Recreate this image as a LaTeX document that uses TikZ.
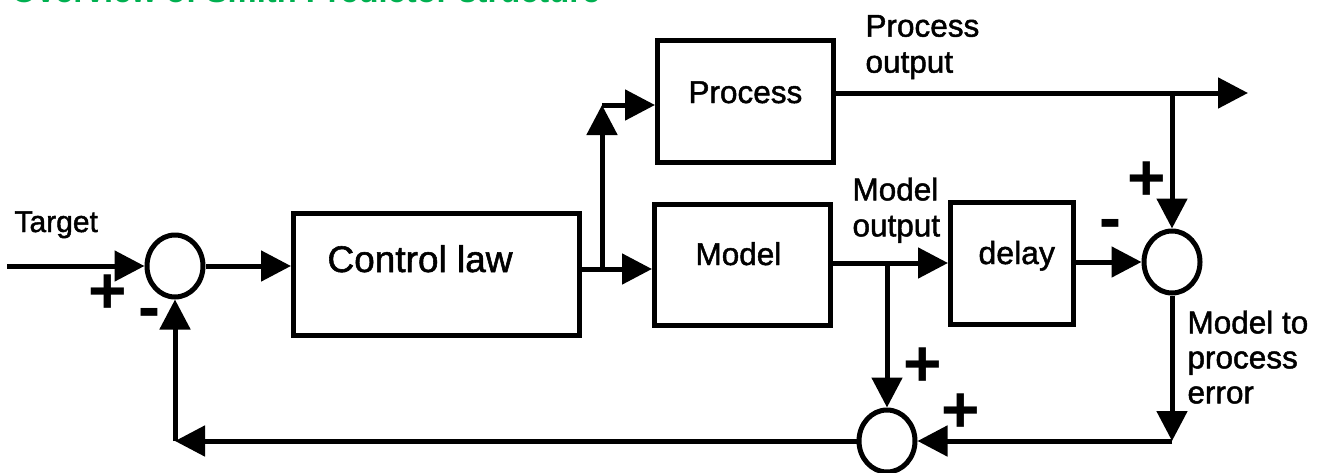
\documentclass[tikz,border=0pt]{standalone}
\usepackage{fontspec}
\setmainfont{Liberation Sans}
\newfontfamily\heavy[FakeBold=1.5]{Liberation Sans}
\usetikzlibrary{arrows.meta,shapes.geometric}
\definecolor{titlegreen}{RGB}{0,176,80}
\begin{document}
\begin{tikzpicture}[x=1pt,y=-1pt,line width=5pt,
  blk/.style={draw,rectangle,inner sep=0pt,line width=5pt},
  sumj/.style={draw,ellipse,minimum width=56pt,minimum height=62pt,inner sep=0pt,line width=5pt},
  arr/.style={-{Triangle[length=30pt,width=30pt]}},
  lbl/.style={inner sep=0pt,font=\heavy\fontsize{31.5}{36}\selectfont,align=left,anchor=north west},
  boxtxt/.style={inner sep=0pt,anchor=base west,font=\heavy\fontsize{31.5}{36}\selectfont},
  sign/.style={inner sep=0pt,font=\fontsize{66}{66}\selectfont\bfseries}]
\useasboundingbox (0,0) rectangle (1322,472);
% title (cut off by the top edge)
\node[anchor=base west,inner sep=0pt,text=titlegreen,font=\fontsize{32.7}{36}\selectfont\bfseries] (title) at (9,2.5) {Overview of Smith Predictor structure};
% blocks
\node[blk,minimum width=286pt,minimum height=122pt] (cl) at (436.5,274.5) {};
\node[blk,minimum width=176pt,minimum height=122pt] (proc) at (745.5,101.5) {};
\node[blk,minimum width=176pt,minimum height=121pt] (model) at (742.5,265) {};
\node[blk,minimum width=123pt,minimum height=122pt] (delay) at (1012,263.5) {};
\node[boxtxt,font=\heavy\fontsize{37}{44}\selectfont] (tcl) at (325,272) {Control law};
\node[boxtxt] (tproc) at (686,103) {Process};
\node[boxtxt] (tmodel) at (693,265) {Model};
\node[boxtxt,font=\heavy\fontsize{32}{36}\selectfont] (tdelay) at (976,264) {delay};
% summing junctions
\node[sumj] (s1) at (175,266) {};
\node[sumj] (s2) at (1172,262) {};
\node[sumj] (s3) at (887,441) {};
% labels
\node[anchor=base west,inner sep=0pt,font=\heavy\fontsize{30}{36}\selectfont] (ttarget) at (12,232) {Target};
\node[lbl] (tpo) at (863,12.5) {Process\\output};
\node[lbl] (tmo) at (850,175) {Model\\output};
\node[lbl,font=\heavy\fontsize{31.5}{35}\selectfont] (terr) at (1185,308) {Model to\\process\\error};
% signs
\node[sign] (p1) at (108,294) {+};
\node[sign,anchor=base] (m1) at (149,329) {-};
\node[sign] (p2) at (1147,181) {+};
\node[sign,anchor=base] (m2) at (1110,240) {-};
\node[sign] (p3) at (923,367) {+};
\node[sign] (p4) at (961,413) {+};
% coordinates
\coordinate (in) at (7,266);
\coordinate (b1) at (602,269);
\coordinate (b2) at (602,105);
\coordinate (po) at (1248,93);
\coordinate (b3) at (s2.north |- po);
\coordinate (b4) at (887,263);
\coordinate (c1) at (s2.south |- s3.east);
\coordinate (c2) at (s1.south |- s3.west);
% connectors
\draw[arr] (in) -- (in -| s1.west);
\draw[arr] (s1.east) -- (s1.east -| cl.west);
\draw (cl.east |- b1) -- (b1);
\draw[arr] (b1) -- (b1 -| model.west);
\draw[arr] (b1) -- (b2);
\draw[arr] (b2) -- (b2 -| proc.west);
\draw[arr] (proc.east |- po) -- (po);
\draw[arr] (b3) -- (s2.north);
\draw[arr] (model.east |- b4) -- (b4 -| delay.west);
\draw[arr] (b4) -- (s3.north);
\draw[arr] (delay.east |- s2.west) -- (s2.west);
\draw[arr] (s2.south) -- (c1);
\draw[arr] (c1) -- (s3.east);
\draw[arr] (s3.west) -- (c2);
\draw[arr] (c2) -- (s1.south);
\end{tikzpicture}
\end{document}
